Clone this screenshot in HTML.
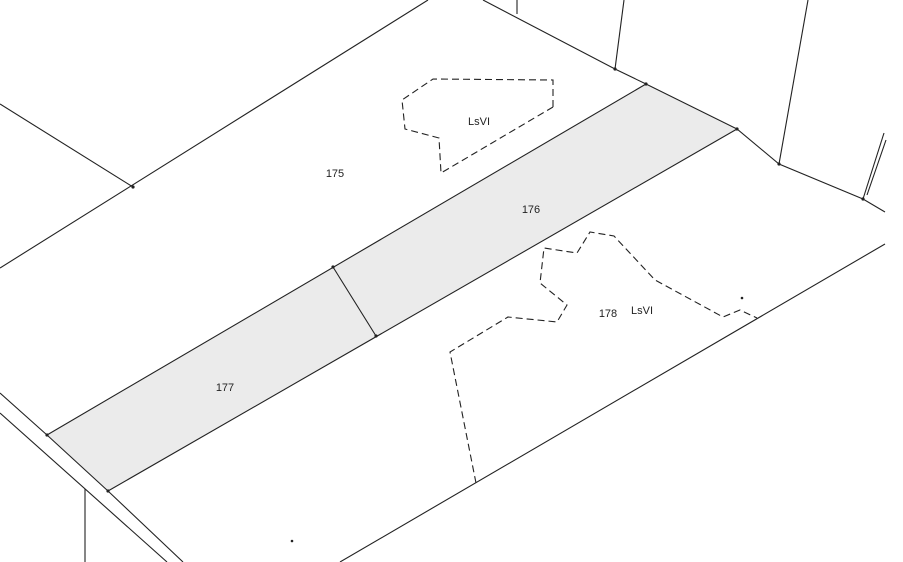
<!DOCTYPE html>
<html><head><style>html,body{margin:0;padding:0;background:#fff}svg{display:block}</style></head>
<body>
<svg width="903" height="562" viewBox="0 0 903 562" xmlns="http://www.w3.org/2000/svg">
<polygon points="47,435 646,84 737,129 108,491" fill="#ebebeb"/>
<g stroke="#222" stroke-width="1.1" fill="none">
<line x1="0" y1="268" x2="428" y2="0"/>
<line x1="0" y1="104" x2="133" y2="187"/>
<polyline points="483,0 615,69 646,84 737,129 779,164 863,199 885,212"/>
<line x1="517" y1="0" x2="517" y2="14"/>
<line x1="624" y1="0" x2="615" y2="69"/>
<line x1="808" y1="0" x2="779" y2="164"/>
<line x1="884" y1="133" x2="863" y2="199"/>
<line x1="886" y1="140" x2="867" y2="195"/>
<line x1="47" y1="435" x2="646" y2="84"/>
<line x1="108" y1="491" x2="737" y2="129"/>
<line x1="333" y1="267" x2="376" y2="336"/>
<polyline points="0,393 47,435 108,491 183,562"/>
<line x1="0" y1="413" x2="167" y2="562"/>
<line x1="85" y1="489" x2="85" y2="562"/>
<line x1="340" y1="562" x2="885" y2="244"/>
</g>
<g stroke="#222" stroke-width="1.1" fill="none" stroke-dasharray="7,4">
<polyline points="553,107 553,80 433,79 402,100 405,129 439,138 441,173 553,107"/>
<polyline points="476,483 450,352 508,317 557,322 567,305 540,283 544,248 577,253 590,232 614,236 655,280 723,317 740,310 757,318"/>
</g>
<g fill="#222">
<circle cx="133" cy="187" r="1.6"/><circle cx="615" cy="69" r="1.6"/><circle cx="646" cy="84" r="1.6"/>
<circle cx="737" cy="129" r="1.6"/><circle cx="779" cy="164" r="1.6"/><circle cx="863" cy="199" r="1.6"/>
<circle cx="333" cy="267" r="1.6"/><circle cx="376" cy="336" r="1.6"/><circle cx="47" cy="435" r="1.6"/>
<circle cx="108" cy="491" r="1.6"/><circle cx="742" cy="298" r="1.3"/><circle cx="292" cy="541" r="1.3"/>
</g>
<g font-family="Liberation Sans, sans-serif" font-size="11" fill="#222" text-anchor="middle">
<text x="335" y="177">175</text>
<text x="531" y="213">176</text>
<text x="225" y="391">177</text>
<text x="608" y="317">178</text>
<text x="479" y="125">LsVI</text>
<text x="642" y="314">LsVI</text>
</g>
</svg>
</body></html>
